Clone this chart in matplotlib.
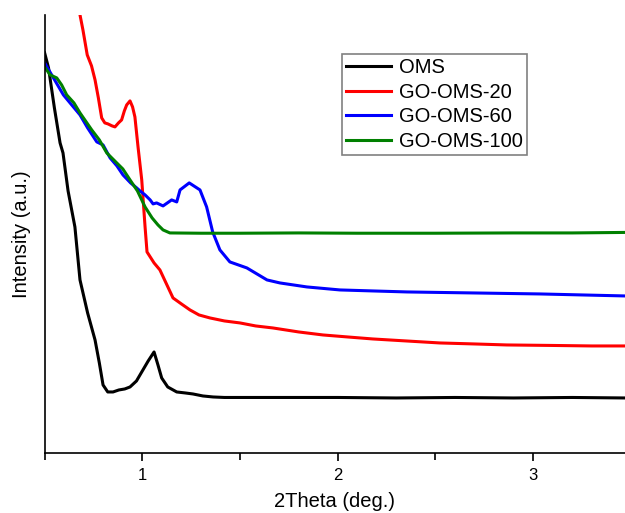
import matplotlib
matplotlib.use('Agg')
import numpy as np
import matplotlib.pyplot as plt
from matplotlib.ticker import MultipleLocator

plt.rcParams['font.family'] = ['Liberation Sans', 'DejaVu Sans']

# 2Theta (deg.) and intensity (a.u.)
oms_x = [0.5, 0.52, 0.55, 0.579, 0.594, 0.62, 0.655, 0.681, 0.72, 0.758, 0.78, 0.799, 0.823,
         0.85, 0.88, 0.91, 0.937, 0.97, 1.003, 1.03, 1.06, 1.08, 1.099, 1.13, 1.176, 1.22,
         1.259, 1.31, 1.362, 1.42, 1.5, 1.7, 2.0, 2.3, 2.6, 2.9, 3.2, 3.47]
oms_y = [400, 385, 345, 310, 300, 262, 226, 173, 140, 113, 90, 68, 61,
         61, 63, 64, 66, 72, 83, 92, 101, 88, 75, 66, 61, 60,
         59, 57, 56, 55.5, 55.5, 55.5, 55.5, 55, 55.5, 55, 55.5, 55]

go20_x = [0.66, 0.681, 0.696, 0.718, 0.74, 0.758, 0.775, 0.792, 0.808, 0.824, 0.845, 0.86, 0.878,
          0.894, 0.908, 0.92, 0.937, 0.95, 0.962, 0.978, 0.997, 1.014, 1.024, 1.06, 1.09,
          1.157, 1.2, 1.244, 1.29, 1.346, 1.42, 1.5, 1.58, 1.668, 1.8, 1.924, 2.05, 2.179,
          2.35, 2.522, 2.7, 2.865, 3.1, 3.3, 3.47]
go20_y = [480, 438, 423, 398, 387, 373, 355, 335, 330, 329, 327, 326, 330,
          333, 342, 348, 352, 346, 336, 306, 273, 226, 201, 190, 183,
          155, 149, 143, 138, 135, 132, 130, 127, 125, 121, 118, 116, 114,
          112, 110, 109, 108, 107.5, 107, 107]

go60_x = [0.5, 0.53, 0.56, 0.596, 0.63, 0.681, 0.72, 0.767, 0.799, 0.835, 0.87, 0.901, 0.94,
          0.971, 0.988, 1.014, 1.04, 1.055, 1.073, 1.106, 1.15, 1.176, 1.193, 1.24, 1.295,
          1.329, 1.36, 1.397, 1.448, 1.535, 1.638, 1.704, 1.842, 2.011, 2.18, 2.354, 2.52,
          2.692, 2.86, 3.034, 3.25, 3.47]
go60_y = [390, 380, 370, 358, 350, 338, 325, 311, 308, 295, 287, 278, 270,
          265, 262, 258, 253, 249, 250, 247, 253, 251, 263, 270, 263,
          246, 221, 203, 191, 185, 173, 170, 166, 163, 162, 161, 160.5,
          160, 159.5, 159, 158, 157]

go100_x = [0.5, 0.528, 0.562, 0.587, 0.613, 0.65, 0.681, 0.741, 0.78, 0.818, 0.869, 0.9, 0.937,
           0.975, 1.014, 1.05, 1.08, 1.106, 1.141, 1.3, 1.5, 1.8, 2.1, 2.5, 2.9, 3.2, 3.47]
go100_y = [386, 378, 375, 368, 358, 350, 340, 323, 313, 300, 290, 284, 273,
           262, 246, 235, 228, 223, 220, 219.7, 219.7, 220, 219.7, 219.7, 220, 220, 220.5]

series = [
    ('OMS', oms_x, oms_y, 'black'),
    ('GO-OMS-20', go20_x, go20_y, 'red'),
    ('GO-OMS-60', go60_x, go60_y, 'blue'),
    ('GO-OMS-100', go100_x, go100_y, 'green'),
]

fig = plt.figure(figsize=(6.25, 5.13), dpi=100)
ax = fig.add_axes([0.0714, 0.117, 0.9286, 0.854])

for name, xs, ys, col in series:
    ax.plot(xs, ys, color=col, lw=2.2, label=name)

ax.set_xlim(0.5, 3.47)
ax.set_ylim(0, 438)
ax.spines['top'].set_visible(False)
ax.spines['right'].set_visible(False)
ax.spines['left'].set_linewidth(1.2)
ax.spines['bottom'].set_linewidth(1.2)
ax.set_yticks([])
ax.xaxis.set_major_locator(MultipleLocator(1))
ax.xaxis.set_minor_locator(MultipleLocator(0.5))
ax.tick_params(axis='x', which='major', direction='out', length=6, width=1.2, labelsize=12, pad=5)
ax.tick_params(axis='x', which='minor', direction='out', length=5, width=1.2)

ax.set_xlabel('2Theta (deg.)', fontsize=14.5, labelpad=6)
ax.set_ylabel('Intensity (a.u.)', fontsize=14.5, labelpad=10)

leg = ax.legend(loc='upper left', bbox_to_anchor=(0.513, 0.91), fontsize=14.5,
                frameon=True, fancybox=False, framealpha=1, edgecolor='#808080',
                handlelength=2.2, handletextpad=0.4, labelspacing=0.27, borderpad=0.2,
                borderaxespad=0)
leg.get_frame().set_linewidth(1.2)

fig.savefig('out.png', dpi=100)
